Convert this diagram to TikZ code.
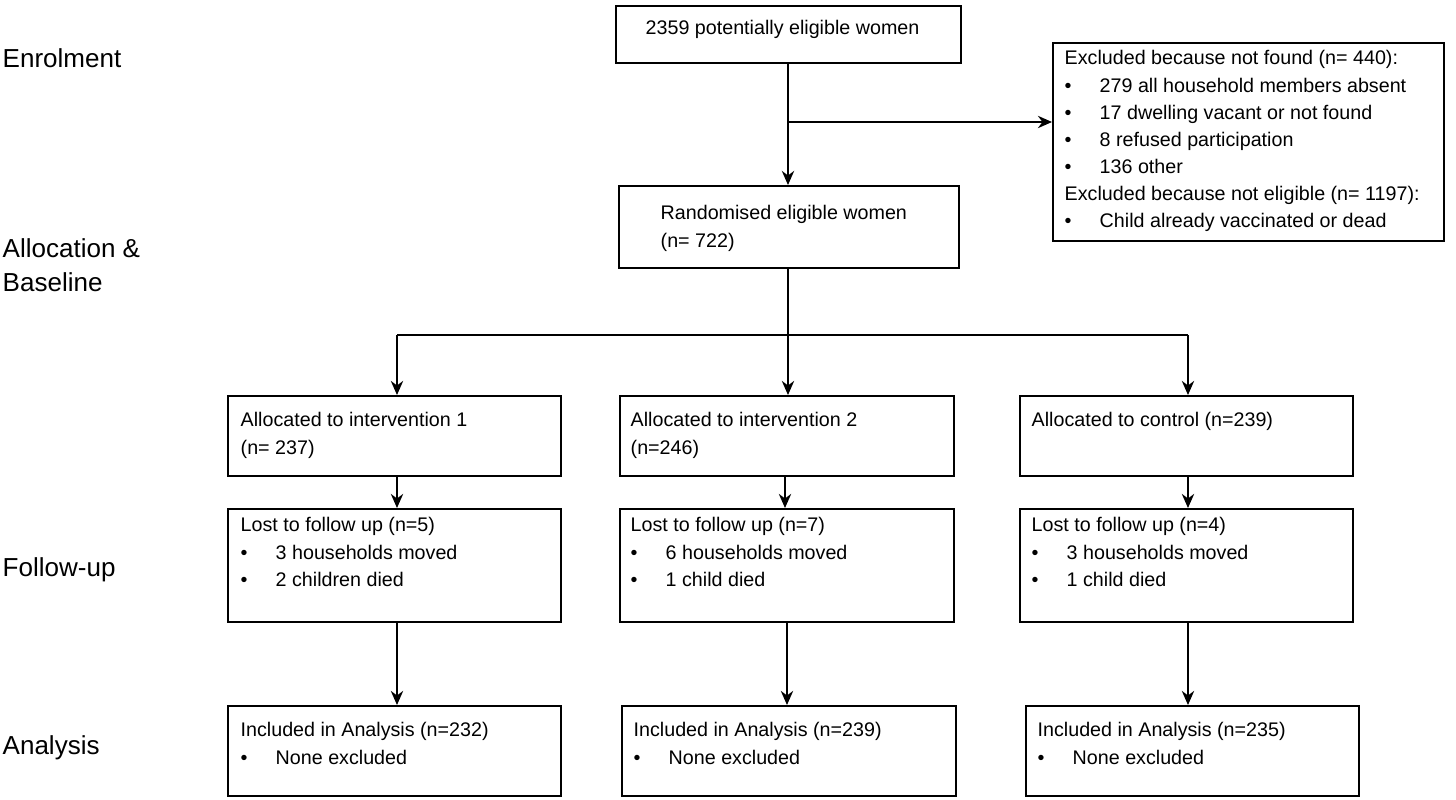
\documentclass[tikz,border=0pt]{standalone}
\usepackage{fontspec}
\setmainfont{Liberation Sans}
\usetikzlibrary{arrows.meta}
\tikzset{
  box/.style={draw, line width=0.5pt, anchor=north west, inner sep=0pt},
  txt/.style={anchor=north west, align=left, inner sep=0pt, font=\fontsize{5.6pt}{7.7pt}\selectfont},
  lbl/.style={anchor=west, align=left, inner sep=0pt, font=\fontsize{7.4pt}{9.5pt}\selectfont},
  arr/.style={-{Stealth[length=4pt,width=3.5pt]}, line width=0.6pt},
  ln/.style={line width=0.6pt}
}
\newcommand{\bl}{\textbullet\hspace{8pt}}
\begin{document}
\begin{tikzpicture}[x=0.01cm, y=-0.01cm]
\useasboundingbox (0,0) rectangle (1456,800);
% stage labels
\node[lbl] (enr) at (2,58) {Enrolment};
\node[lbl] (alb) at (2,265) {Allocation \&\\Baseline};
\node[lbl] (fup) at (2,570) {Follow-up};
\node[lbl] (ana) at (2,748) {Analysis};
% boxes
\node[box, minimum width=3.45cm, minimum height=0.57cm] (pot) at (615,5) {};
\node[txt] at (645,20) {2359 potentially eligible women};
\node[box, minimum width=3.91cm, minimum height=1.98cm] (exc) at (1052,42) {};
\node[txt] at (1064,50) {Excluded because not found (n= 440):\\
\bl 279 all household members absent\\
\bl 17 dwelling vacant or not found\\
\bl 8 refused participation\\
\bl 136 other\\
Excluded because not eligible (n= 1197):\\
\bl Child already vaccinated or dead};
\node[box, minimum width=3.40cm, minimum height=0.82cm] (ran) at (618,185) {};
\node[txt] at (660,205) {Randomised eligible women\\(n= 722)};
% arms
\node[box, minimum width=3.33cm, minimum height=0.80cm] (al1) at (227,395) {};
\node[txt] at (240,412) {Allocated to intervention 1\\(n= 237)};
\node[box, minimum width=3.34cm, minimum height=0.80cm] (al2) at (619,395) {};
\node[txt] at (630,412) {Allocated to intervention 2\\(n=246)};
\node[box, minimum width=3.33cm, minimum height=0.80cm] (al3) at (1019,395) {};
\node[txt] at (1031,412) {Allocated to control (n=239)};
\node[box, minimum width=3.33cm, minimum height=1.13cm] (lo1) at (227,508) {};
\node[txt] at (240,517) {Lost to follow up (n=5)\\\bl 3 households moved\\\bl 2 children died};
\node[box, minimum width=3.34cm, minimum height=1.13cm] (lo2) at (619,508) {};
\node[txt] at (630,517) {Lost to follow up (n=7)\\\bl 6 households moved\\\bl 1 child died};
\node[box, minimum width=3.33cm, minimum height=1.13cm] (lo3) at (1019,508) {};
\node[txt] at (1031,517) {Lost to follow up (n=4)\\\bl 3 households moved\\\bl 1 child died};
\node[box, minimum width=3.33cm, minimum height=0.90cm] (in1) at (227,705) {};
\node[txt] at (240,722) {Included in Analysis (n=232)\\\bl None excluded};
\node[box, minimum width=3.34cm, minimum height=0.90cm] (in2) at (621,705) {};
\node[txt] at (633,722) {Included in Analysis (n=239)\\\bl None excluded};
\node[box, minimum width=3.33cm, minimum height=0.90cm] (in3) at (1025,705) {};
\node[txt] at (1037,722) {Included in Analysis (n=235)\\\bl None excluded};
% connectors
\coordinate (br) at (788,122);
\coordinate (sp) at (788,335);
\draw[arr] (pot.south -| br) -- (ran.north -| br);
\draw[arr] (br) -- (br -| exc.west);
\draw[ln] (ran.south -| sp) -- (sp);
\draw[ln] (397,335) -- (1188,335);
\draw[arr] (397,335) -- (al1.north -| 397,0);
\draw[arr] (sp) -- (al2.north -| sp);
\draw[arr] (1188,335) -- (al3.north -| 1188,0);
\foreach \a/\b/\x in {al1/lo1/397, al2/lo2/785, al3/lo3/1188, lo1/in1/397, lo2/in2/787, lo3/in3/1188}
  \draw[arr] (\a.south -| \x,0) -- (\b.north -| \x,0);
\end{tikzpicture}
\end{document}
